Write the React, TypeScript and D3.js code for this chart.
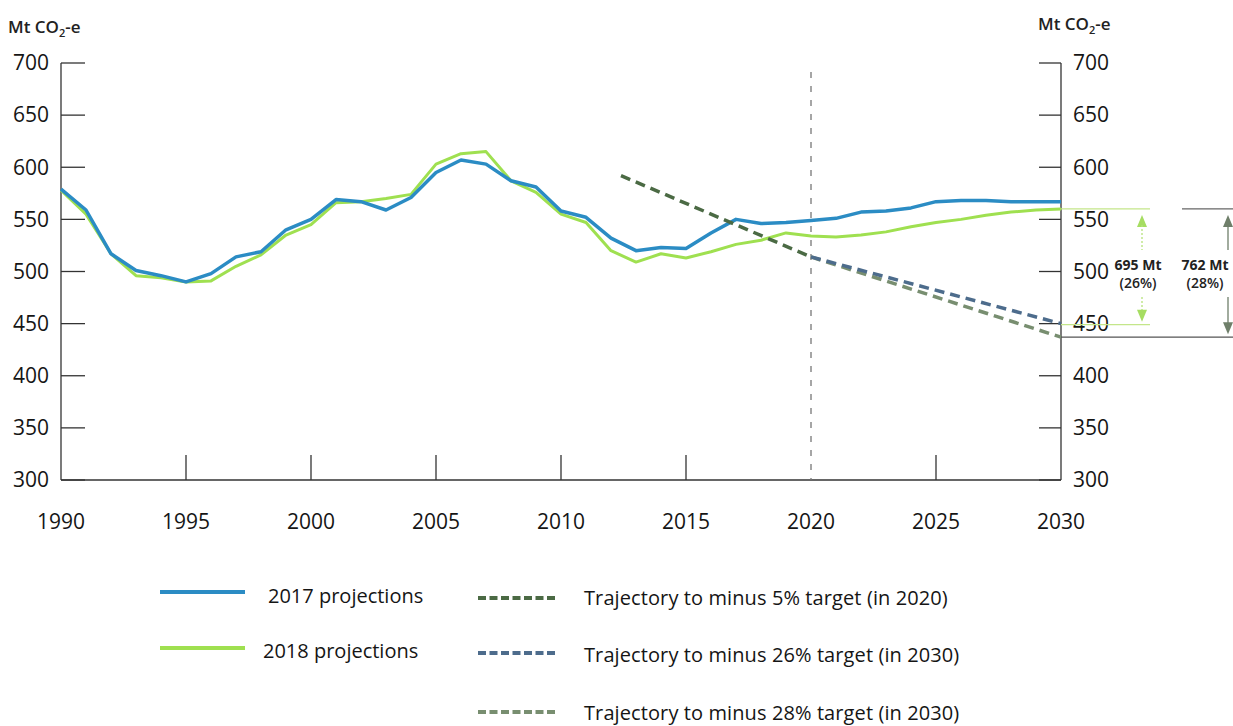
import React from "react";
import * as d3 from "d3";

const years = d3.range(1990, 2031);
const proj2017 = [579, 559, 517, 501, 496, 490, 498, 514, 519, 540, 550, 569, 567, 559, 571, 595, 607, 603, 587, 581, 558, 552, 532, 520, 523, 522, 537, 550, 546, 547, 549, 551, 557, 558, 561, 567, 568, 568, 567, 567, 567];
const proj2018 = [578, 555, 517, 496, 494, 490, 491, 505, 516, 535, 545, 566, 567, 570, 574, 603, 613, 615, 587, 576, 555, 547, 520, 509, 517, 513, 519, 526, 530, 537, 534, 533, 535, 538, 543, 547, 550, 554, 557, 559, 560];
const traj5Years = [2012.4, 2020];
const traj5 = [592, 514];
const traj26Years = [2020, 2030];
const traj26 = [514, 450];
const traj28Years = [2020, 2030];
const traj28 = [514, 437];
const yTicks = [300, 350, 400, 450, 500, 550, 600, 650, 700];
const xTickLabels = [1990, 1995, 2000, 2005, 2010, 2015, 2020, 2025, 2030];
const annotTop = 560;
const annot26Bottom = 449;
const annot28Bottom = 437;

const C_BLUE = "#2b8cc4";
const C_GREEN = "#9fe050";
const C_T5 = "#4b6a44";
const C_T26 = "#4d6c8c";
const C_T28 = "#788e70";
const C_AX = "#333";
const FONT = "'Open Sans', sans-serif";
const TXT = "#151515";

export default function App() {
  const x = d3.scaleLinear().domain([1990, 2030]).range([61, 1061]);
  const y = d3.scaleLinear().domain([300, 700]).range([480, 63]);
  const line = d3
    .line<[number, number]>()
    .x((d) => x(d[0]))
    .y((d) => y(d[1]));
  const zip = (xs: number[], vs: number[]) => xs.map((v, i) => [v, vs[i]] as [number, number]);

  const x0 = x(1990);
  const x1 = x(2030);
  const yb = y(300);
  const yt = y(700);

  const arrowUp = (cx: number, cy: number, col: string) => (
    <path d={`M${cx},${cy} L${cx - 5},${cy + 12} L${cx + 5},${cy + 12} Z`} fill={col} />
  );
  const arrowDown = (cx: number, cy: number, col: string) => (
    <path d={`M${cx},${cy} L${cx - 5},${cy - 12} L${cx + 5},${cy - 12} Z`} fill={col} />
  );

  const gX = 1142;
  const dX = 1228;
  const yTop = y(annotTop);
  const y26 = y(annot26Bottom);
  const y28 = y(annot28Bottom);

  return (
    <svg width={1233} height={726} style={{ position: "absolute", left: 0, top: 0, background: "#fff" }} fontFamily={FONT}>
      <rect width={1233} height={726} fill="#fff" />
      {/* axis titles */}
      <text x={8} y={33} fontSize={17} fontWeight={600} fill="#222">
        Mt CO<tspan fontSize={11} dy={4}>2</tspan>
        <tspan dy={-4}>-e</tspan>
      </text>
      <text x={1038} y={30} fontSize={17} fontWeight={600} fill="#222">
        Mt CO<tspan fontSize={11} dy={4}>2</tspan>
        <tspan dy={-4}>-e</tspan>
      </text>

      {/* axes */}
      <line x1={x0} x2={x0} y1={yt} y2={yb} stroke={C_AX} strokeWidth={1.3} />
      <line x1={x1} x2={x1} y1={yt} y2={yb} stroke={C_AX} strokeWidth={1.3} />
      <line x1={x0} x2={x1} y1={yb} y2={yb} stroke={C_AX} strokeWidth={1.3} />
      {yTicks.map((t) => (
        <g key={"yt" + t}>
          <line x1={x0} x2={x0 + 24} y1={y(t)} y2={y(t)} stroke={C_AX} strokeWidth={1.3} />
          <line x1={x1 - 22} x2={x1} y1={y(t)} y2={y(t)} stroke={C_AX} strokeWidth={1.3} />
          <text x={49} y={y(t)} dy="0.35em" textAnchor="end" fontSize={21} fill={TXT}>
            {t}
          </text>
          <text x={1073} y={y(t)} dy="0.35em" textAnchor="start" fontSize={21} fill={TXT}>
            {t}
          </text>
        </g>
      ))}
      {xTickLabels.map((t) => (
        <g key={"xt" + t}>
          {t > 1990 && t < 2030 && t !== 2020 && (
            <line x1={x(t)} x2={x(t)} y1={yb} y2={yb - 25} stroke={C_AX} strokeWidth={1.3} />
          )}
          <text x={x(t)} y={529} textAnchor="middle" fontSize={21} fill={TXT}>
            {t}
          </text>
        </g>
      ))}
      {/* 2020 dashed vertical */}
      <line x1={x(2020)} x2={x(2020)} y1={72} y2={yb} stroke="#777" strokeWidth={1.3} strokeDasharray="6,8" />

      {/* series */}
      <path d={line(zip(years, proj2018)) || ""} fill="none" stroke={C_GREEN} strokeWidth={3} strokeLinejoin="round" />
      <path d={line(zip(years, proj2017)) || ""} fill="none" stroke={C_BLUE} strokeWidth={3.5} strokeLinejoin="round" />
      <path d={line(zip(traj28Years, traj28)) || ""} fill="none" stroke={C_T28} strokeWidth={3.5} strokeDasharray="10,6" />
      <path d={line(zip(traj26Years, traj26)) || ""} fill="none" stroke={C_T26} strokeWidth={3.5} strokeDasharray="10,6" />
      <path d={line(zip(traj5Years, traj5)) || ""} fill="none" stroke={C_T5} strokeWidth={3.5} strokeDasharray="10,6" />

      {/* right annotations */}
      <line x1={x1} x2={1150} y1={yTop} y2={yTop} stroke="#c4e68a" strokeWidth={1.3} />
      <line x1={1182} x2={1233} y1={yTop} y2={yTop} stroke="#666" strokeWidth={1.3} />
      <line x1={x1} x2={1150} y1={y26} y2={y26} stroke="#c4e68a" strokeWidth={1.3} />
      <line x1={x1} x2={1233} y1={y28} y2={y28} stroke="#555" strokeWidth={1.3} />
      {arrowUp(gX, yTop + 6, "#a6dd62")}
      <line x1={gX} x2={gX} y1={yTop + 16} y2={250} stroke="#b6e27a" strokeWidth={1.3} strokeDasharray="2,2" />
      <line x1={gX} x2={gX} y1={297} y2={y26 - 14} stroke="#b6e27a" strokeWidth={1.3} strokeDasharray="2,2" />
      {arrowDown(gX, y26 - 3, "#a6dd62")}
      {arrowUp(dX, yTop + 6, "#6f7f6a")}
      <line x1={dX} x2={dX} y1={yTop + 16} y2={250} stroke="#6f7f6a" strokeWidth={1.3} />
      <line x1={dX} x2={dX} y1={297} y2={y28 - 14} stroke="#6f7f6a" strokeWidth={1.3} />
      {arrowDown(dX, y28 - 3, "#6f7f6a")}
      <text x={1138} y={270} textAnchor="middle" fontSize={14} fontWeight={700} fill="#222">695 Mt</text>
      <text x={1138} y={288} textAnchor="middle" fontSize={14} fontWeight={600} fill="#222">(26%)</text>
      <text x={1205} y={270} textAnchor="middle" fontSize={14} fontWeight={700} fill="#222">762 Mt</text>
      <text x={1205} y={288} textAnchor="middle" fontSize={14} fontWeight={600} fill="#222">(28%)</text>

      {/* legend */}
      <line x1={160} x2={245} y1={592} y2={592} stroke={C_BLUE} strokeWidth={4} />
      <text x={268} y={603} fontSize={20} fill={TXT}>2017 projections</text>
      <line x1={160} x2={245} y1={648} y2={648} stroke={C_GREEN} strokeWidth={4} />
      <text x={263} y={658} fontSize={20} fill={TXT}>2018 projections</text>

      <line x1={478} x2={557} y1={598} y2={598} stroke={C_T5} strokeWidth={4} strokeDasharray="8,3.5" />
      <text x={584} y={605} fontSize={20} letterSpacing={0.1} fill={TXT}>Trajectory to minus 5% target (in 2020)</text>
      <line x1={478} x2={557} y1={653} y2={653} stroke={C_T26} strokeWidth={4} strokeDasharray="8,3.5" />
      <text x={584} y={662} fontSize={20} letterSpacing={0.1} fill={TXT}>Trajectory to minus 26% target (in 2030)</text>
      <line x1={478} x2={557} y1={712} y2={712} stroke={C_T28} strokeWidth={4} strokeDasharray="8,3.5" />
      <text x={584} y={720} fontSize={20} letterSpacing={0.1} fill={TXT}>Trajectory to minus 28% target (in 2030)</text>
    </svg>
  );
}
